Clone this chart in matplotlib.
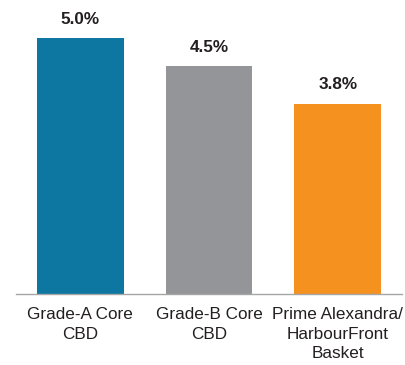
import matplotlib.pyplot as plt

categories = ["Grade-A Core\nCBD", "Grade-B Core\nCBD", "Prime Alexandra/\nHarbourFront\nBasket"]
values = [5.0, 4.46, 3.72]
value_labels = ["5.0%", "4.5%", "3.8%"]
colors = ["#0e77a1", "#939598", "#f5921f"]

plt.rcParams["font.family"] = ["Liberation Sans", "DejaVu Sans"]

fig = plt.figure(figsize=(4.06, 3.65), dpi=100)
ax = fig.add_axes([16 / 406, 71 / 365, 386 / 406, 274 / 365])

x = range(len(categories))
bars = ax.bar(x, values, width=0.673, color=colors)

for bar, lab in zip(bars, value_labels):
    ax.annotate(lab, (bar.get_x() + bar.get_width() / 2, bar.get_height()),
                xytext=(0, 8), textcoords="offset points",
                ha="center", va="bottom", fontsize=12.3, fontweight="bold",
                color="#231f20")

ax.set_xlim(-0.5, 2.5)
ax.set_ylim(0, 274 / 51.2)
ax.set_xticks(list(x))
ax.set_xticklabels(categories, fontsize=12.3, color="#231f20", linespacing=1.38)
ax.tick_params(axis="x", length=0, pad=9.5)
ax.set_yticks([])
for side in ["top", "right", "left"]:
    ax.spines[side].set_visible(False)
ax.spines["bottom"].set_color("#a6a6a6")
ax.spines["bottom"].set_linewidth(1.0)

fig.savefig("out.png", dpi=100)
